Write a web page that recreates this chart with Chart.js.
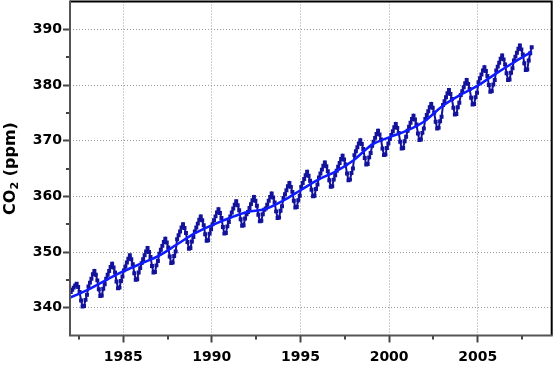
<!DOCTYPE html>
<html><head><meta charset="utf-8">
<script src="https://cdn.jsdelivr.net/npm/chart.js@4.4.0/dist/chart.umd.min.js"></script>
<style>html,body{margin:0;padding:0;background:#fff;}#wrap{width:553px;height:365px;}</style>
</head><body><div id="wrap"><canvas id="c" width="553" height="365"></canvas></div>
<script>
// Monthly CO2 (ppm), January 1982 onward
const startYear = 1982;
const co2 = [
 342.8,343.2,343.6,344.0,344.3,343.7,342.8,341.3,340.2,340.3,341.4,342.3,
 343.8,344.5,345.2,346.0,346.6,345.9,344.9,343.3,342.1,342.2,343.4,344.2,
 345.2,345.9,346.6,347.3,347.9,347.2,346.3,344.7,343.5,343.6,344.8,345.6,
 346.7,347.4,348.1,348.8,349.4,348.7,347.8,346.2,345.0,345.1,346.3,347.1,
 348.0,348.7,349.4,350.1,350.7,350.0,349.1,347.5,346.3,346.4,347.6,348.4,
 349.7,350.4,351.1,351.8,352.4,351.7,350.8,349.2,348.0,348.1,349.3,350.1,
 352.3,353.0,353.7,354.4,355.0,354.3,353.4,351.8,350.6,350.7,351.9,352.7,
 353.7,354.4,355.1,355.8,356.4,355.7,354.8,353.2,352.0,352.1,353.3,354.1,
 355.0,355.7,356.4,357.1,357.7,357.0,356.1,354.5,353.3,353.4,354.6,355.4,
 356.4,357.1,357.8,358.5,359.1,358.4,357.5,355.9,354.7,354.8,356.0,356.8,
 357.2,357.9,358.6,359.3,359.9,359.2,358.3,356.7,355.5,355.6,356.8,357.6,
 357.8,358.5,359.2,359.9,360.5,359.8,358.9,357.3,356.1,356.2,357.4,358.2,
 359.7,360.4,361.1,361.8,362.4,361.7,360.8,359.2,358.0,358.1,359.3,360.1,
 361.7,362.4,363.1,363.8,364.4,363.7,362.8,361.2,360.0,360.1,361.3,362.1,
 363.4,364.1,364.8,365.5,366.1,365.4,364.5,362.9,361.7,361.8,363.0,363.8,
 364.6,365.3,366.0,366.7,367.3,366.6,365.7,364.1,362.9,363.0,364.2,365.0,
 367.4,368.1,368.8,369.5,370.1,369.4,368.5,366.9,365.7,365.8,367.0,367.8,
 369.1,369.8,370.5,371.2,371.8,371.1,370.2,368.6,367.4,367.5,368.7,369.5,
 370.3,371.0,371.7,372.4,373.0,372.3,371.4,369.8,368.6,368.7,369.9,370.7,
 371.8,372.5,373.2,373.9,374.5,373.8,372.9,371.3,370.1,370.2,371.4,372.2,
 373.9,374.6,375.3,376.0,376.6,375.9,375.0,373.4,372.2,372.3,373.5,374.3,
 376.4,377.1,377.8,378.5,379.1,378.4,377.5,375.9,374.7,374.8,376.0,376.8,
 378.2,378.9,379.6,380.3,380.9,380.2,379.3,377.7,376.5,376.6,377.8,378.6,
 380.5,381.2,381.9,382.6,383.2,382.5,381.6,380.0,378.8,378.9,380.1,380.9,
 382.6,383.3,384.0,384.7,385.3,384.6,383.7,382.1,380.9,381.0,382.2,383.0,
 384.4,385.1,385.8,386.5,387.1,386.4,385.5,383.9,382.7,382.8,384.4,385.7,
 386.8
];
// Smoothed trend, read at the start of each year
const trendYears = [1982,1983,1984,1985,1986,1987,1988,1989,1990,1991,1992,1993,1994,1995,1996,1997,1998,1999,2000,2001,2002,2003,2004,2005,2006,2007,2008];
const trendValues = [341.8,343.2,344.9,346.5,347.9,349.3,351.3,353.3,354.8,356.1,357.2,357.7,359.2,361.1,363.0,364.5,366.5,369.2,370.6,371.8,373.5,376.2,378.2,379.9,382.0,384.0,385.9];
const xTicks = [1985,1990,1995,2000,2005];
const xMinorTicks = [1982.5,1987.5,1992.5,1997.5,2002.5,2007.5];
const yTicks = [340,350,360,370,380,390];
const yMinorTicks = [345,355,365,375,385];

const monthlyPoints = co2.map((v,i)=>({x: startYear + (i+0.5)/12, y: v}));
const trendPoints = trendYears.map((t,i)=>({x: t, y: trendValues[i]}));

const FONT = '"DejaVu Sans", sans-serif';

const decor = {
  id: 'decor',
  afterDraw(chart){
    const {ctx, chartArea: a, scales: {x, y}} = chart;
    ctx.save();
    ctx.strokeStyle = '#444'; ctx.lineWidth = 2;
    xMinorTicks.forEach(v=>{const p = Math.round(x.getPixelForValue(v)); ctx.beginPath(); ctx.moveTo(p, a.bottom); ctx.lineTo(p, a.bottom+4); ctx.stroke();});
    yMinorTicks.forEach(v=>{const p = Math.round(y.getPixelForValue(v)); ctx.beginPath(); ctx.moveTo(a.left, p); ctx.lineTo(a.left-4, p); ctx.stroke();});
    // frame
    ctx.strokeStyle = '#000'; ctx.lineWidth = 2;
    ctx.beginPath(); ctx.moveTo(a.left, a.top); ctx.lineTo(a.right, a.top); ctx.lineTo(a.right, a.bottom); ctx.stroke();
    ctx.strokeStyle = '#555'; ctx.lineWidth = 2;
    ctx.beginPath(); ctx.moveTo(a.left, a.top-1); ctx.lineTo(a.left, a.bottom); ctx.lineTo(a.right+1, a.bottom); ctx.stroke();
    // y title with subscript
    ctx.fillStyle = '#000';
    ctx.translate(15, (a.top + a.bottom)/2);
    ctx.rotate(-Math.PI/2);
    ctx.textBaseline = 'alphabetic';
    const big = 'bold 16px ' + FONT, small = 'bold 11px ' + FONT;
    ctx.font = big; const w1 = ctx.measureText('CO').width; const w3 = ctx.measureText(' (ppm)').width;
    ctx.font = small; const w2 = ctx.measureText('2').width;
    let sx = -(w1+w2+w3)/2;
    ctx.font = big; ctx.fillText('CO', sx, 0); sx += w1;
    ctx.font = small; ctx.fillText('2', sx, 3); sx += w2;
    ctx.font = big; ctx.fillText(' (ppm)', sx, 0);
    ctx.restore();
  }
};

new Chart(document.getElementById('c'), {
  type: 'line',
  data: {
    datasets: [
      { label: 'trend', data: trendPoints, borderColor: '#0f1bff', borderWidth: 2.5, pointRadius: 0, cubicInterpolationMode: 'monotone', fill: false, order: 0 },
      { label: 'monthly', data: monthlyPoints, borderColor: '#12129a', backgroundColor: '#12129a', borderWidth: 2, pointStyle: 'rect', pointRadius: 2.8, pointBorderWidth: 0, tension: 0, fill: false, order: 1 }
    ]
  },
  options: {
    responsive: false, animation: false, devicePixelRatio: 1,
    layout: { autoPadding: false, padding: { top: 1.5, right: 1.3, left: 0, bottom: 0 } },
    plugins: { legend: { display: false }, tooltip: { enabled: false } },
    scales: {
      x: {
        type: 'linear', min: 1982, max: 2009.17,
        afterBuildTicks: s => { s.ticks = xTicks.map(v=>({value: v})); },
        afterFit: s => { s.height = 29.5; s.paddingLeft = 0; s.paddingRight = 0; s.paddingTop = 0; s.paddingBottom = 0; },
        grid: { color: '#9a9a9a', lineWidth: 1, drawTicks: true, tickLength: 7, tickColor: '#444', tickWidth: 2 },
        border: { display: false, dash: [1, 2] },
        ticks: { color: '#000', font: { family: FONT, size: 14, weight: 'bold' }, padding: 6, maxRotation: 0, callback: v => String(v) }
      },
      y: {
        type: 'linear', min: 335, max: 395,
        afterBuildTicks: s => { s.ticks = yTicks.map(v=>({value: v})); },
        afterFit: s => { s.width = 70; s.paddingLeft = 0; s.paddingRight = 0; s.paddingTop = 0; s.paddingBottom = 0; },
        grid: { color: '#9a9a9a', lineWidth: 1, drawTicks: true, tickLength: 7, tickColor: '#444', tickWidth: 2 },
        border: { display: false, dash: [1, 2] },
        ticks: { color: '#000', font: { family: FONT, size: 14, weight: 'bold' }, padding: 1, callback: v => String(v) }
      }
    }
  },
  plugins: [decor]
});
</script></body></html>
